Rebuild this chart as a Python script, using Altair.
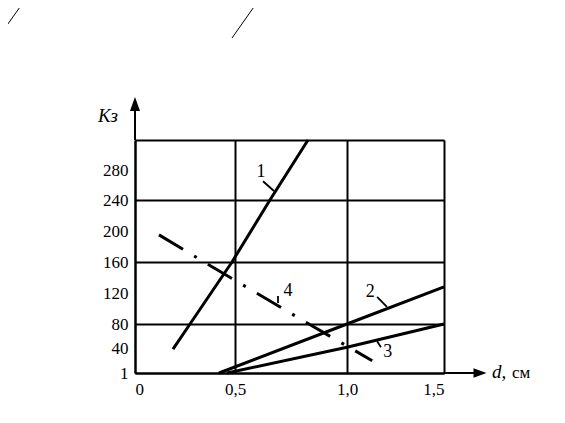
import altair as alt
import pandas as pd

# ---- data ----
x_ticks = [0, 0.5, 1.0, 1.5]
y_ticks = [0, 40, 80, 120, 160, 200, 240, 280, 320]
x_domain = [0, 0.5, 1.0, 1.5]
y_domain = [0, 80, 160, 240, 320]

line1_d = [0.19, 0.275, 0.485, 0.656, 0.826]
line1_k = [39, 80, 160, 240, 320]
line2_d = [0.42, 1.0, 1.5]
line2_k = [0, 80, 128]
line3_d = [0.46, 1.0, 1.5]
line3_k = [0, 42, 80]
line4_d = [0.12, 0.345, 0.83, 1.13]
line4_k = [195, 160, 80, 20]

lab_text = ["1", "2", "3", "4"]
lab_d = [0.616, 1.12, 1.21, 0.737]
lab_k = [277, 121, 34, 123]

lead_d = [0.625, 1.155, 1.155, 0.692]
lead_k = [265, 115, 52, 116]
lead_d2 = [0.674, 1.206, 1.175, 0.692]
lead_k2 = [252, 102, 42, 107]

W, H = 309, 233
SERIF = "Liberation Serif"

rows = []
for name, ds, ks in [("1", line1_d, line1_k), ("2", line2_d, line2_k), ("3", line3_d, line3_k)]:
    for i, (d, k) in enumerate(zip(ds, ks)):
        rows.append({"series": name, "d": d, "k": k, "o": i})
solid = pd.DataFrame(rows)
dash = pd.DataFrame({"d": line4_d, "k": line4_k, "o": list(range(len(line4_d)))})
labels = pd.DataFrame({"t": lab_text, "d": lab_d, "k": lab_k})
leaders = pd.DataFrame({"d": lead_d, "k": lead_k, "d2": lead_d2, "k2": lead_k2})
one = pd.DataFrame({"a": [0]})

xscale = alt.Scale(domain=x_domain, range=[0, 100, 212, W], nice=False, zero=False)
yscale = alt.Scale(domain=y_domain, range=[H, 184, 122, 60, 0], nice=False, zero=False)

xaxis = alt.Axis(
    values=x_ticks, grid=True, gridColor="black", gridWidth=2, gridOpacity=1,
    ticks=False, domain=True, domainColor="black", domainWidth=2,
    labelExpr="datum.value == 0 ? '\u00a0\u00a0\u00a0\u00a00' : replace(format(datum.value, '.1f'), '.', ',')",
    labelFont=SERIF, labelFontSize=17, labelColor="black", labelPadding=8, labelOverlap=False,
    title=None,
)
yaxis = alt.Axis(
    values=y_ticks, grid=True, gridColor="black", gridWidth=2,
    gridOpacity={"condition": {"test": "datum.value % 80 == 0", "value": 1}, "value": 0},
    ticks=False, domain=True, domainColor="black", domainWidth=2,
    labelExpr="datum.value == 0 ? '1' : (datum.value == 320 ? '' : datum.label)",
    labelFont=SERIF, labelFontSize=17, labelColor="black", labelPadding=7, labelOverlap=False,
    title=None,
)

X = alt.X("d:Q", scale=xscale, axis=xaxis)
Y = alt.Y("k:Q", scale=yscale, axis=yaxis)

lines = alt.Chart(solid).mark_line(color="black", strokeWidth=3).encode(
    x=X, y=Y, detail="series:N", order="o:Q"
)
line4 = alt.Chart(dash).mark_line(color="black", strokeWidth=3, strokeDash=[28, 13, 3, 13]).encode(
    x=X, y=Y, order="o:Q"
)
texts = alt.Chart(labels).mark_text(font=SERIF, fontSize=18, color="black").encode(
    x=X, y=Y, text="t:N"
)
leads = alt.Chart(leaders).mark_rule(color="black", strokeWidth=1.8).encode(
    x=X, y=Y, x2="d2:Q", y2="k2:Q"
)

# axis arrows
yarrow = alt.Chart(one).mark_rule(color="black", strokeWidth=2).encode(
    x=alt.value(0), y=alt.value(-32), y2=alt.value(0)
)
yhead = alt.Chart(one).mark_point(
    shape="M0,-1L0.72,1L-0.72,1Z", filled=True, color="black", opacity=1, size=196
).encode(x=alt.value(0), y=alt.value(-36))
xarrow = alt.Chart(one).mark_rule(color="black", strokeWidth=2).encode(
    x=alt.value(W), x2=alt.value(340), y=alt.value(H)
)
xhead = alt.Chart(one).mark_point(
    shape="M1,0L-1,0.72L-1,-0.72Z", filled=True, color="black", opacity=1, size=169
).encode(x=alt.value(345), y=alt.value(H))

# axis titles
ytitle = alt.Chart(one).mark_text(font=SERIF, fontSize=19, fontStyle="italic", color="black").encode(
    x=alt.value(-27), y=alt.value(-24), text=alt.value("Кз")
)
xtitle1 = alt.Chart(one).mark_text(font=SERIF, fontSize=19, fontStyle="italic", color="black", align="left").encode(
    x=alt.value(357), y=alt.value(H - 1), text=alt.value("d,")
)
xtitle2 = alt.Chart(one).mark_text(font=SERIF, fontSize=17, color="black", align="left").encode(
    x=alt.value(377), y=alt.value(H), text=alt.value("см")
)

# stray scan strokes at the top of the page
stray1 = alt.Chart(one).mark_rule(color="black", strokeWidth=1).encode(
    x=alt.value(-135), y=alt.value(-105), x2=alt.value(-110), y2=alt.value(-140)
)
stray2 = alt.Chart(one).mark_rule(color="black", strokeWidth=1).encode(
    x=alt.value(97), y=alt.value(-102), x2=alt.value(121), y2=alt.value(-136)
)

chart = alt.layer(
    lines, line4, leads, texts, yarrow, yhead, xarrow, xhead, ytitle, xtitle1, xtitle2, stray1, stray2
).properties(
    width=W, height=H,
    padding={"left": 127, "top": 132, "right": 110, "bottom": 40},
    autosize=alt.AutoSizeParams(type="none"),
).configure_view(strokeWidth=0).configure_axis(
    labelFont=SERIF, labelFontSize=17, labelColor="black", labelOverlap=False
).configure(background="white")

chart.save("out.html", embed_options={"renderer": "svg", "actions": False})
